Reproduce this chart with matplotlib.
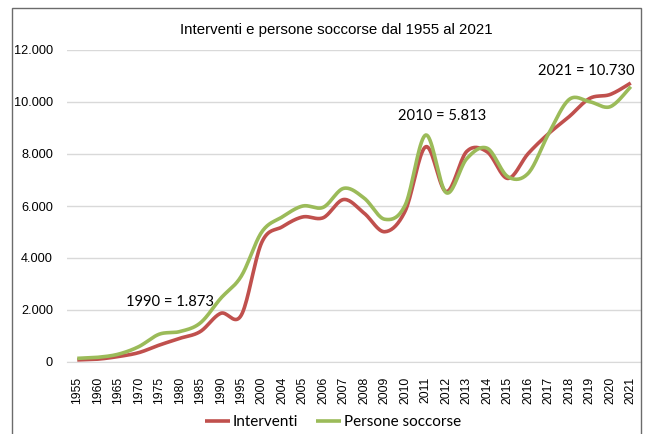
import numpy as np
import matplotlib

matplotlib.use("Agg")
import matplotlib.pyplot as plt
from matplotlib.patches import Rectangle
from matplotlib.ticker import FuncFormatter

# categories on the x axis (5-year steps until 2000, then yearly from 2004)
years = ["1955", "1960", "1965", "1970", "1975", "1980", "1985", "1990", "1995", "2000",
         "2004", "2005", "2006", "2007", "2008", "2009", "2010", "2011", "2012", "2013",
         "2014", "2015", "2016", "2017", "2018", "2019", "2020", "2021"]

interventi = [80, 110, 210, 360, 650, 910, 1170, 1873, 1800, 4600,
              5200, 5580, 5550, 6250, 5720, 5010, 5813, 8280, 6550, 8100,
              8080, 7060, 8020, 8790, 9440, 10140, 10290, 10730]

persone = [140, 180, 300, 590, 1070, 1170, 1500, 2450, 3300, 5000,
           5580, 6000, 5950, 6680, 6300, 5490, 6040, 8730, 6510, 7820,
           8220, 7130, 7260, 8790, 10100, 10010, 9820, 10590]

annotations = [("1990 = 1.873", 4.5, 2310),
               ("2010 = 5.813", 17.8, 9460),
               ("2021 = 10.730", 24.85, 11190)]

RED = "#C0504D"
GREEN = "#9BBB59"


def smooth(x, y, n=20):
    """Excel-style smoothed line: cubic Bezier through points, Catmull-Rom tangents."""
    x = np.asarray(x, float)
    y = np.asarray(y, float)
    px = np.concatenate([[x[0]], x, [x[-1]]])
    py = np.concatenate([[y[0]], y, [y[-1]]])
    t = np.linspace(0, 1, n)[:, None]
    xs, ys = [], []
    for i in range(1, len(px) - 2):
        p0 = np.array([px[i], py[i]])
        p3 = np.array([px[i + 1], py[i + 1]])
        c1 = p0 + (np.array([px[i + 1], py[i + 1]]) - np.array([px[i - 1], py[i - 1]])) / 6
        c2 = p3 - (np.array([px[i + 2], py[i + 2]]) - p0) / 6
        pts = ((1 - t) ** 3) * p0 + 3 * ((1 - t) ** 2) * t * c1 + 3 * (1 - t) * t ** 2 * c2 + t ** 3 * p3
        xs.append(pts[:, 0])
        ys.append(pts[:, 1])
    return np.concatenate(xs), np.concatenate(ys)


fig = plt.figure(figsize=(6.5, 4.34), dpi=100)
ax = fig.add_axes([67 / 650, 1 - 362 / 434, (641 - 67) / 650, (362 - 50) / 434])

idx = np.arange(len(years))
sx, sy = smooth(idx, interventi)
ax.plot(sx, sy, color=RED, lw=2.6, solid_capstyle="butt", label="Interventi", zorder=3)
sx, sy = smooth(idx, persone)
ax.plot(sx, sy, color=GREEN, lw=2.6, solid_capstyle="butt", label="Persone soccorse", zorder=3)

ax.set_xlim(-0.5, len(years) - 0.5)
ax.set_ylim(0, 12000)
ax.set_yticks(np.arange(0, 12001, 2000))
ax.yaxis.set_major_formatter(FuncFormatter(lambda v, p: f"{int(v):,}".replace(",", ".")))
ax.set_xticks(idx)
ax.set_xticklabels(years, rotation=90)
ax.tick_params(axis="both", length=0, colors="#000000")
ax.tick_params(axis="y", pad=10, labelsize=9.2)
ax.tick_params(axis="x", pad=10.5, labelsize=8.8)
for lab in ax.get_yticklabels():
    lab.set_fontfamily("Liberation Sans")
for lab in ax.get_xticklabels():
    lab.set_fontfamily(["Liberation Sans Narrow", "Liberation Sans"])

ax.grid(axis="y", color="#D9D9D9", lw=1)
ax.set_axisbelow(True)
for s in ["top", "right", "left"]:
    ax.spines[s].set_visible(False)
ax.spines["bottom"].set_color("#D9D9D9")

for txt, xi, yv in annotations:
    ax.text(xi, yv, txt, ha="center", va="center", fontsize=10.6, family="Lato", color="#000000")

fig.text(336 / 650, 1 - 30 / 434, "Interventi e persone soccorse dal 1955 al 2021",
         ha="center", va="center", fontsize=10.8, family="Liberation Sans")

leg = fig.legend(loc="center", bbox_to_anchor=(333 / 650, 1 - 422 / 434), ncol=2, frameon=False,
                 prop={"family": "Lato", "size": 11}, handlelength=1.6, handletextpad=0.2,
                 columnspacing=1.2)

# chart border
fig.patches.append(Rectangle((12 / 650, -0.05), (641 - 12) / 650, 1.05 - 8 / 434,
                             transform=fig.transFigure, fill=False, edgecolor="#6B6B6B", lw=1))

fig.savefig("out.png", dpi=100)
